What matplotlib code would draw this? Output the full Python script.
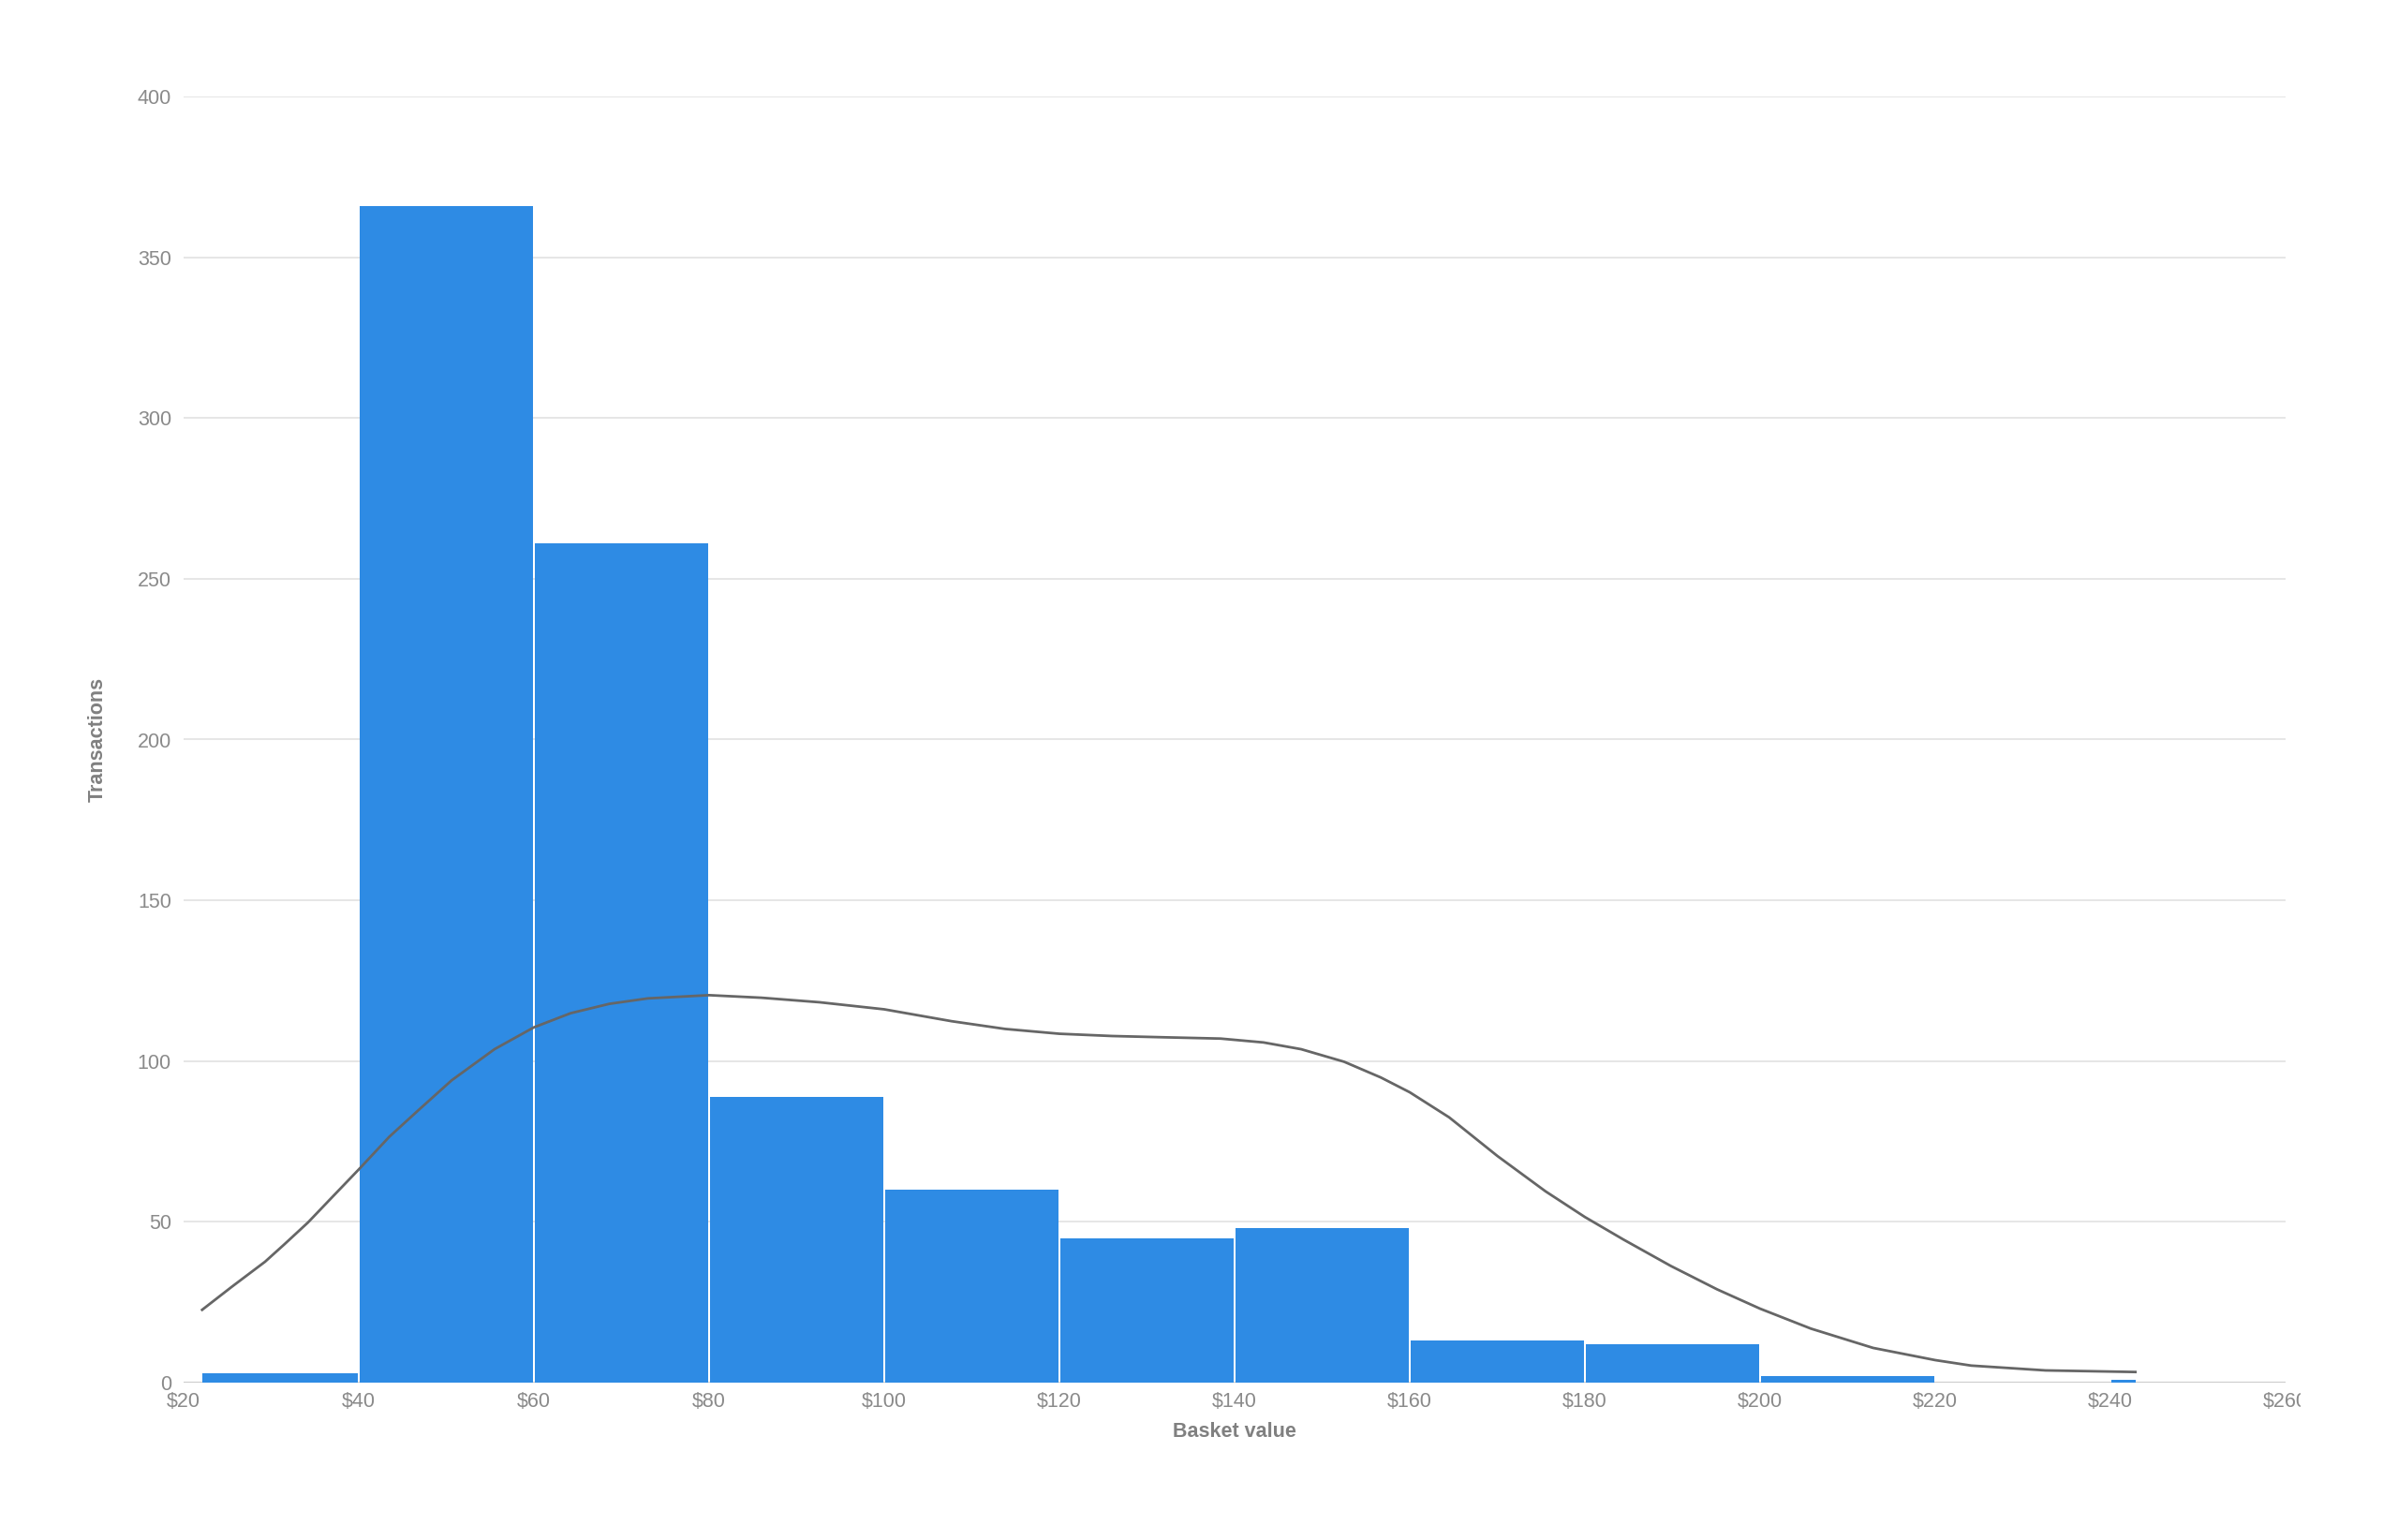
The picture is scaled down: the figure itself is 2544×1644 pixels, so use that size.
import numpy as np
import matplotlib
matplotlib.use('Agg')
import matplotlib.pyplot as plt
from matplotlib.transforms import Bbox, TransformedBbox

plt.rcParams['font.family'] = ['Liberation Sans', 'DejaVu Sans']

# histogram bins (basket value, $) and transaction counts
bin_edges = [22, 40, 60, 80, 100, 120, 140, 160, 180, 200, 220, 240, 243]
counts = [3, 366, 261, 89, 60, 45, 48, 13, 12, 2, 0, 1]

# smoothed density curve
curve_x = [22, 25.5, 29.3, 31.5, 34.2, 36.9, 40, 43.5, 46.8, 50.6, 55.5, 60,
           64.2, 68.6, 73, 80, 86, 92.6, 100, 107.7, 113.8, 120, 126, 132,
           138.4, 143.3, 147.6, 152.5, 156.7, 160, 164.5, 170, 175.5, 180,
           184.4, 189.8, 195.1, 200, 205.8, 212.9, 220, 224.1, 232.6, 243]
curve_y = [22.4, 29.8, 37.6, 43.0, 49.8, 57.5, 66.3, 76.5, 84.7, 94.0, 103.7,
           110.5, 114.9, 117.8, 119.5, 120.5, 119.7, 118.3, 116.1, 112.4,
           110.0, 108.5, 107.8, 107.4, 107.0, 105.8, 103.7, 99.8, 94.9, 90.3,
           82.5, 70.5, 59.5, 51.5, 44.5, 36.3, 29.0, 23.0, 16.8, 10.8, 7.0,
           5.3, 3.8, 3.3]

x_ticks = list(range(20, 261, 20))
x_tick_labels = ['$' + str(v) for v in x_ticks]
y_ticks = list(range(0, 401, 50))

W, H = 2544, 1644
fig = plt.figure(figsize=(W / 100, H / 100), dpi=100)
ax = fig.add_axes([196 / W, 1 - 1476 / H, (2440 - 196) / W, (1476 - 103) / H])

# bars, with a thin white gap between neighbours
gap = 0.2
edges = np.array(bin_edges, dtype=float)
ax.bar(edges[:-1] + gap / 2, counts, width=np.diff(edges) - gap, align='edge',
       color='#2e8be4', linewidth=0, zorder=2)

# curve
ax.plot(curve_x, curve_y, color='#666666', linewidth=2.0, zorder=3,
        solid_capstyle='butt')

ax.set_xlim(20, 260)
ax.set_ylim(0, 400)
ax.set_xticks(x_ticks)
ax.set_xticklabels(x_tick_labels)
ax.set_yticks(y_ticks)

for s in ax.spines.values():
    s.set_visible(False)
ax.set_axisbelow(True)
ax.yaxis.grid(True, color='#e6e6e6', linewidth=1.4)
ax.axhline(0, color='#cccccc', linewidth=1.5, zorder=1)

ax.tick_params(axis='both', length=0, labelsize=15.5, labelcolor='#8a8a8a')
ax.tick_params(axis='x', pad=7.5)
ax.tick_params(axis='y', pad=9.4)

# the last x label is cut at the chart edge in the reference
clip = TransformedBbox(Bbox([[0, 0], [2456 / W, 1]]), fig.transFigure)
last = ax.get_xticklabels()[-1]
last.set_clip_on(True)
last.set_clip_box(clip)

ax.set_xlabel('Basket value', fontsize=15.5, fontweight='bold', color='#808080')
ax.set_ylabel('Transactions', fontsize=15.5, fontweight='bold', color='#808080')
ax.xaxis.set_label_coords(0.5, (1476 - 1528) / 1373)
ax.xaxis.label.set_va('center')
ax.yaxis.set_label_coords((104.5 - 196) / 2244, 0.5)
ax.yaxis.label.set_va('center')

fig.savefig('out.png', dpi=100, facecolor='white')
